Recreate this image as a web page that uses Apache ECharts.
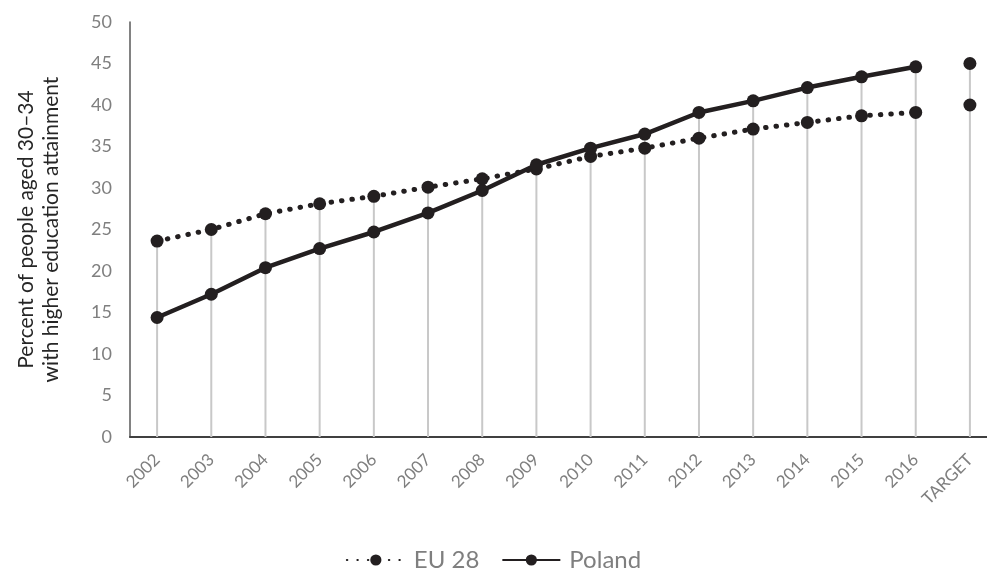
<!DOCTYPE html>
<html><head><meta charset="utf-8">
<script src="https://cdn.jsdelivr.net/npm/echarts@6/dist/echarts.min.js"></script>
<style>html,body{margin:0;padding:0;background:#fff}#c{width:987px;height:571px}</style>
</head><body><div id="c"></div>
<script>
const categories = ['2002','2003','2004','2005','2006','2007','2008','2009','2010','2011','2012','2013','2014','2015','2016','TARGET'];
const eu28 = [23.6, 25.0, 26.9, 28.1, 29.0, 30.1, 31.1, 32.3, 33.8, 34.8, 36.0, 37.1, 37.9, 38.7, 39.1, '-'];
const poland = [14.4, 17.2, 20.4, 22.7, 24.7, 27.0, 29.7, 32.8, 34.8, 36.5, 39.1, 40.5, 42.1, 43.4, 44.6, '-'];
const euTarget = ['-','-','-','-','-','-','-','-','-','-','-','-','-','-','-', 40];
const polandTarget = ['-','-','-','-','-','-','-','-','-','-','-','-','-','-','-', 45];
const yTicks = [0, 5, 10, 15, 20, 25, 30, 35, 40, 45, 50];

const num = v => (typeof v === 'number' ? v : -Infinity);
const dropLines = categories.map((c, i) => Math.max(num(eu28[i]), num(poland[i]), num(euTarget[i]), num(polandTarget[i])));

const ink = '#231f20';
const font = 'Lato, "Open Sans", sans-serif';
const chart = echarts.init(document.getElementById('c'));
chart.setOption({
  animation: false,
  grid: { left: 130, right: -10, top: 22, bottom: 134, outerBoundsMode: 'none', containLabel: false },
  legend: {
    top: 543, left: 'center', itemWidth: 58, itemHeight: 14, itemGap: 22,
    data: ['EU 28', 'Poland'],
    textStyle: { fontSize: 24, color: '#7f7f7f', fontFamily: font, padding: [0, 0, 0, 4] }
  },
  xAxis: {
    type: 'category', data: categories, boundaryGap: true,
    axisLine: { lineStyle: { color: '#404040', width: 2 } },
    axisTick: { show: false },
    axisLabel: { rotate: 45, fontSize: 17, color: '#7f7f7f', fontFamily: font, margin: 20, interval: 0 }
  },
  yAxis: {
    type: 'value', min: yTicks[0], max: yTicks[yTicks.length - 1], interval: 5,
    name: 'Percent of people aged 30–34\nwith higher education attainment',
    nameLocation: 'middle', nameGap: 66, nameRotate: 90,
    nameTextStyle: { fontSize: 21, color: '#262626', fontFamily: font, lineHeight: 25 },
    axisLine: { show: true, lineStyle: { color: '#595959', width: 1.5 } },
    axisTick: { show: false },
    splitLine: { show: false },
    axisLabel: { fontSize: 18, color: '#7f7f7f', fontFamily: font, margin: 18 }
  },
  series: [
    { name: 'drop', type: 'bar', data: dropLines, barWidth: 2, silent: true,
      itemStyle: { color: '#c8c8c8' }, z: 1 },
    { name: 'EU 28', type: 'line', data: eu28, symbol: 'circle', symbolSize: 13,
      itemStyle: { color: ink }, lineStyle: { color: ink, width: 5, type: [0.5, 10], cap: 'round' }, z: 3 },
    { name: 'Poland', type: 'line', data: poland, symbol: 'circle', symbolSize: 13,
      itemStyle: { color: ink }, lineStyle: { color: ink, width: 4.5 }, z: 4 },
    { name: 'EU target', type: 'scatter', data: euTarget, symbolSize: 13, itemStyle: { color: ink, opacity: 1 }, z: 3 },
    { name: 'Poland target', type: 'scatter', data: polandTarget, symbolSize: 13, itemStyle: { color: ink, opacity: 1 }, z: 3 }
  ]
});
</script></body></html>
